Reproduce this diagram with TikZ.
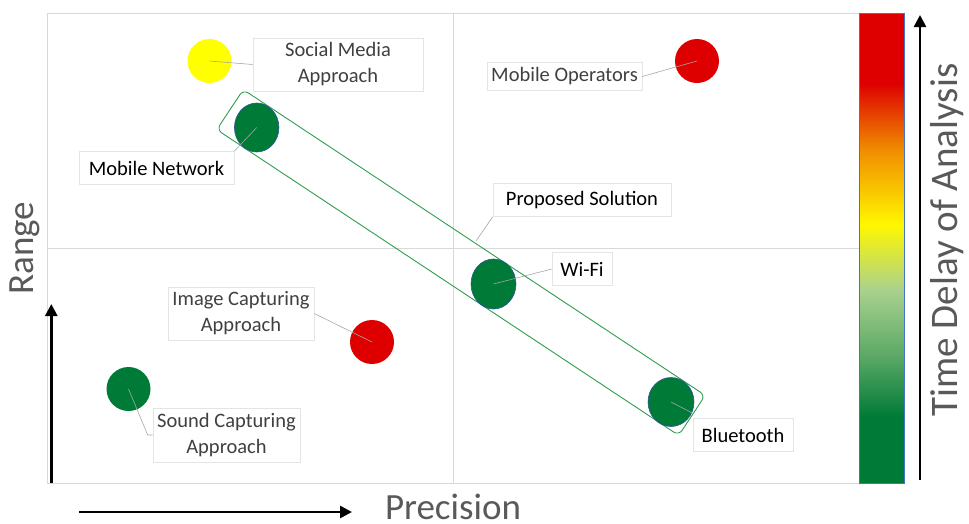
\documentclass[tikz,border=0pt]{standalone}
\usepackage{fontspec}
\setmainfont{Carlito}
\usetikzlibrary{arrows.meta,shapes.geometric}

\definecolor{dkgreen}{HTML}{007A37}
\definecolor{midgreen}{HTML}{5BA866}
\definecolor{ltgreen}{HTML}{A9D18E}
\definecolor{dotyellow}{HTML}{FFFF00}
\definecolor{baryellow}{HTML}{FFF700}
\definecolor{barorange}{HTML}{F08C00}
\definecolor{dotred}{HTML}{DE0000}
\definecolor{gridgray}{HTML}{D9D9D9}
\definecolor{leadgray}{HTML}{A6A6A6}
\definecolor{boxgray}{HTML}{E4E4E4}
\definecolor{titlegray}{HTML}{595959}
\definecolor{txtgray}{HTML}{404040}
\definecolor{rimblue}{HTML}{2F5597}
\definecolor{bandgreen}{HTML}{2E9D50}
\definecolor{barrim}{HTML}{4472C4}

% colour scale for the delay bar (path occupies 25bp..75bp)
\pgfdeclareverticalshading{delayscale}{100bp}{%
  color(0bp)=(dkgreen); color(32bp)=(dkgreen); color(38.5bp)=(midgreen);
  color(45.5bp)=(ltgreen); color(52.5bp)=(baryellow); color(60.5bp)=(barorange);
  color(67.5bp)=(dotred); color(100bp)=(dotred)}

\tikzset{
  dot/.style={circle, minimum size=44pt, inner sep=0pt},
  gdot/.style={ellipse, fill=dkgreen, draw=rimblue, line width=0.6pt, inner sep=0pt},
  lbl/.style={draw=boxgray, fill=white, line width=0.6pt, align=center, inner sep=0pt,
    font=\fontsize{20.5}{26}\selectfont},
  leader/.style={draw=leadgray, line width=0.6pt},
  grid line/.style={draw=gridgray, line width=0.8pt},
  axisarrow/.style={line width=2.6pt, -{Triangle[length=12pt,width=12pt]}},
  axtitle/.style={font=\fontsize{37}{40}\selectfont, text=titlegray, inner sep=0pt},
}

\begin{document}
\begin{tikzpicture}[x=1pt,y=-1pt]
\useasboundingbox (0,0) rectangle (969,523);

% quadrant frame
\draw[grid line] (47,483) -- (47,13) -- (859,13);
\draw[grid line] (47,483) -- (859,483);
\draw[grid line] (453,13) -- (453,483);
\draw[grid line] (47,248) -- (859,248);

% time-delay colour bar
\node (bar) [draw=barrim, line width=0.6pt, shading=delayscale, minimum width=45pt,
  minimum height=470pt, inner sep=0pt] at (881.5,248) {};

% grouping band of the proposed solution
\node (band) [draw=bandgreen, line width=0.9pt, rounded corners=6pt, rotate=-33.5,
  minimum width=554pt, minimum height=48pt, inner sep=0pt] at (461,262.5) {};

% data points
\node (smd) [dot, fill=dotyellow] at (209.5,61) {};
\node (mop) [dot, fill=dotred] at (697,61) {};
\node (img) [dot, fill=dotred] at (372,342) {};
\node (snd) [dot, fill=dkgreen] at (128.5,389) {};
\node (mnet) [gdot, minimum width=44.5pt, minimum height=49pt] at (256.7,127.5) {};
\node (wifi) [gdot, minimum width=45pt, minimum height=50pt] at (493.5,284) {};
\node (bt) [gdot, minimum width=46pt, minimum height=49pt] at (671,402) {};

% labels
\node (smdL) [lbl, text=txtgray, minimum width=170pt, minimum height=53pt] at (338,64.5)
  {Social Media\\Approach};
\node (mnetL) [lbl, minimum width=155pt, minimum height=33pt] at (156.5,168) {Mobile Network};
\node (mopL) [lbl, text=txtgray, minimum width=155pt, minimum height=28pt] at (564.5,76.5) {Mobile Operators};
\node (propL) [lbl, minimum width=178pt, minimum height=33pt] at (582,200) {Proposed Solution};
\node (wifiL) [lbl, minimum width=60pt, minimum height=33pt] at (582,269) {Wi-Fi};
\node (btL) [lbl, minimum width=100pt, minimum height=33pt] at (743,435) {Bluetooth};
\node (imgL) [lbl, text=txtgray, minimum width=146pt, minimum height=53pt] at (241,313.5)
  {Image Capturing\\Approach};
\node (sndL) [lbl, text=txtgray, minimum width=147pt, minimum height=54pt] at (226.5,435)
  {Sound Capturing\\Approach};

% leader lines
\coordinate (bandEdge) at (476,241);
\draw[leader] (smd.center) -- (smdL.west);
\draw[leader] (mnet.center) -- (mnetL.north east);
\draw[leader] (mop.center) -- (mopL.east);
\draw[leader] (propL.south west) -- (bandEdge);
\draw[leader] (wifi.center) -- (wifiL.west);
\draw[leader] (bt.center) -- ([yshift=5pt]btL.north west);
\draw[leader] (img.center) -- (imgL.east);
\draw[leader] (snd.center) -- ([xshift=-5pt]sndL.west) -- (sndL.west);

% axes
\coordinate (yA0) at (51.3,483);  \coordinate (yA1) at (51.3,304);
\coordinate (xA0) at (79,512);    \coordinate (xA1) at (352,512);
\coordinate (tA0) at (920,480);   \coordinate (tA1) at (920,15);
\draw[axisarrow] (yA0) -- (yA1);
\draw[axisarrow] (xA0) -- (xA1);
\draw[axisarrow] (tA0) -- (tA1);

\node (rangeT) [axtitle, rotate=90] at (25,248) {Range};
\node (precT) [axtitle, anchor=base] at (453,519) {Precision};
\node (delayT) [axtitle, rotate=90, font=\fontsize{39}{42}\selectfont] at (947,240) {Time Delay of Analysis};
\end{tikzpicture}
\end{document}
